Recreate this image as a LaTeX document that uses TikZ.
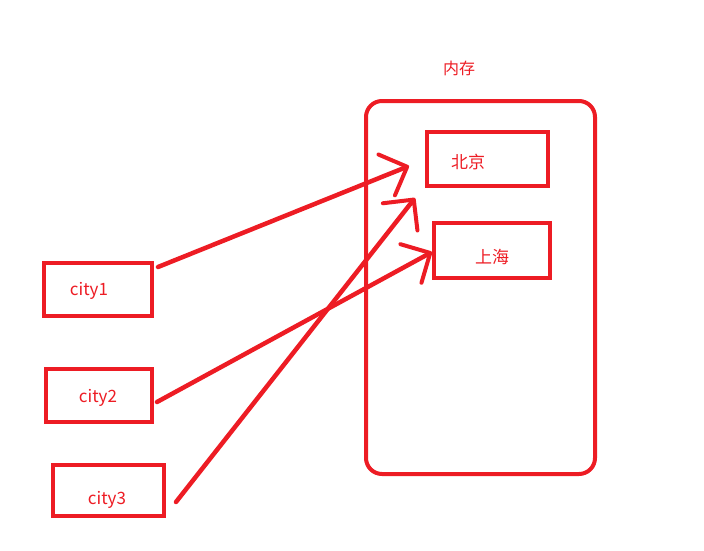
\documentclass[tikz,border=0pt]{standalone}
\usepackage{fontspec}
\setmainfont{Noto Sans CJK SC}
\usetikzlibrary{arrows.meta}
\definecolor{pred}{HTML}{ED1C24}
\begin{document}
\begin{tikzpicture}[x=1pt,y=-1pt,
  box/.style={draw=pred,line width=4pt,inner sep=0pt,outer sep=0pt},
  lbl/.style={text=pred,font=\fontsize{17}{19}\selectfont,inner sep=0pt},
  conn/.style={draw=pred,line width=4.5pt,line cap=round,line join=round,
    -{Straight Barb[length=22pt,width=44pt,line width=4pt,round]}}]
\useasboundingbox (0,0) rectangle (704,551);
% memory
\draw[box,rounded corners=16pt] (366,101) rectangle (595,474);
\node[box,minimum width=121pt,minimum height=54pt,anchor=north west] (bj) at (427,132) {};
\node[box,minimum width=116pt,minimum height=55pt,anchor=north west] (sh) at (434,223) {};
\node[lbl,font=\fontsize{16}{18}\selectfont] (mem) at (459,68) {内存};
\node[lbl] (bjt) at (468,162) {北京};
\node[lbl] (sht) at (492,257) {上海};
% cities
\node[box,minimum width=108pt,minimum height=53pt,anchor=north west] (c1) at (44,263) {};
\node[box,minimum width=106pt,minimum height=53pt,anchor=north west] (c2) at (46,369) {};
\node[box,minimum width=111pt,minimum height=51pt,anchor=north west] (c3) at (53,465) {};
\node[lbl] (c1t) at (89,291) {city1};
\node[lbl] (c2t) at (98,398) {city2};
\node[lbl] (c3t) at (107,500) {city3};
% arrow ends
\coordinate (s1) at (158,267);
\coordinate (s2) at (157,402);
\coordinate (s3) at (176,502);
\coordinate (t1) at (409,166);
\coordinate (t2) at (432,252);
\coordinate (t3) at (415,198);
\draw[conn] (s1) -- (t1);
\draw[conn] (s2) -- (t2);
\draw[conn] (s3) -- (t3);
\end{tikzpicture}
\end{document}
